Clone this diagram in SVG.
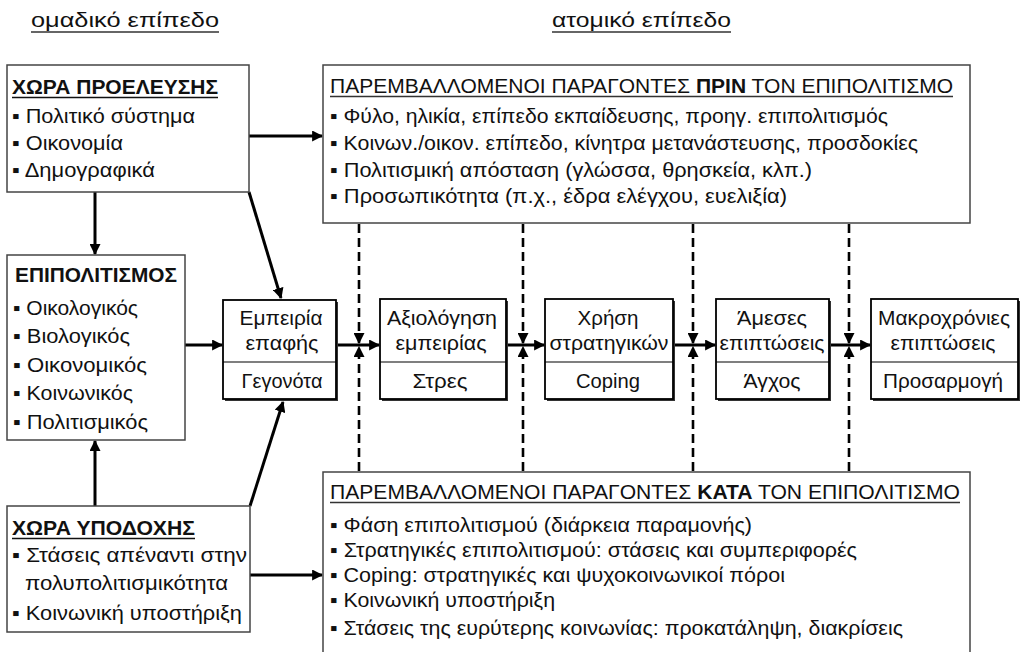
<svg xmlns="http://www.w3.org/2000/svg" width="1024" height="652" viewBox="0 0 1024 652">
<style>
text{font-family:"Liberation Sans",Arial,"DejaVu Sans",sans-serif;font-size:20px;fill:#111}
.b{font-weight:bold}
.t{font-size:21px}
.c{text-anchor:middle}
.box{fill:#fff;stroke:#444;stroke-width:1.5}
.cb{fill:#fff;stroke:#000;stroke-width:1.8}
.sh{fill:#333}
.ul{stroke:#333;stroke-width:1.3}
.con{stroke:#000;stroke-width:3;fill:none}
.dash{stroke:#000;stroke-width:2.6;fill:none;stroke-dasharray:9 5}
</style>
<defs>
<marker id="ah" viewBox="0 0 10 10" refX="9" refY="5" markerWidth="11" markerHeight="11" markerUnits="userSpaceOnUse" orient="auto">
<path d="M0,0 L10,5 L0,10 z" fill="#000"/>
</marker>
</defs>

<g id="headers">
<text x="31" y="27" textLength="188" lengthAdjust="spacingAndGlyphs" fill="#222">ομαδικό επίπεδο</text>
<line class="ul" x1="31" y1="32" x2="219" y2="32"/>
<text x="552" y="27" textLength="179" lengthAdjust="spacingAndGlyphs" fill="#222">ατομικό επίπεδο</text>
<line class="ul" x1="552" y1="32" x2="731" y2="32"/>
</g>

<g id="connectors">
<line class="con" x1="249" y1="136" x2="322" y2="136" marker-end="url(#ah)"/>
<line class="con" x1="95" y1="192" x2="95" y2="254" marker-end="url(#ah)"/>
<line class="con" x1="249" y1="192" x2="281" y2="298" marker-end="url(#ah)"/>
<line class="con" x1="185" y1="345" x2="222" y2="345" marker-end="url(#ah)"/>
<line class="con" x1="95" y1="506" x2="95" y2="441" marker-end="url(#ah)"/>
<line class="con" x1="250" y1="506" x2="283" y2="402" marker-end="url(#ah)"/>
<line class="con" x1="250" y1="575" x2="322" y2="575" marker-end="url(#ah)"/>
<line class="con" x1="336" y1="345" x2="379" y2="345" marker-end="url(#ah)"/>
<line class="con" x1="506" y1="345" x2="544" y2="345" marker-end="url(#ah)"/>
<line class="con" x1="673" y1="345" x2="715" y2="345" marker-end="url(#ah)"/>
<line class="con" x1="829" y1="345" x2="870" y2="345" marker-end="url(#ah)"/>
<line class="dash" x1="359" y1="224" x2="359" y2="343" marker-end="url(#ah)"/>
<line class="dash" x1="359" y1="471" x2="359" y2="347" marker-end="url(#ah)"/>
<line class="dash" x1="523" y1="224" x2="523" y2="343" marker-end="url(#ah)"/>
<line class="dash" x1="523" y1="471" x2="523" y2="347" marker-end="url(#ah)"/>
<line class="dash" x1="693" y1="224" x2="693" y2="343" marker-end="url(#ah)"/>
<line class="dash" x1="693" y1="471" x2="693" y2="347" marker-end="url(#ah)"/>
<line class="dash" x1="849" y1="224" x2="849" y2="343" marker-end="url(#ah)"/>
<line class="dash" x1="849" y1="471" x2="849" y2="347" marker-end="url(#ah)"/>
</g>

<g id="xora-proeleusis">
<rect class="box" x="7" y="65" width="242" height="127"/>
<text class="b t" x="12" y="94" textLength="206" lengthAdjust="spacingAndGlyphs">ΧΩΡΑ ΠΡΟΕΛΕΥΣΗΣ</text>
<line x1="12" y1="97.5" x2="218" y2="97.5" stroke="#111" stroke-width="1.5"/>
<text x="12" y="123" textLength="183" lengthAdjust="spacingAndGlyphs">▪ Πολιτικό σύστημα</text>
<text x="12" y="150" textLength="111" lengthAdjust="spacingAndGlyphs">▪ Οικονομία</text>
<text x="12" y="177" textLength="143" lengthAdjust="spacingAndGlyphs">▪ Δημογραφικά</text>
</g>

<g id="epipolitismos">
<rect class="box" x="7" y="255" width="178" height="185"/>
<text class="b t" x="15" y="282" textLength="162" lengthAdjust="spacingAndGlyphs">ΕΠΙΠΟΛΙΤΙΣΜΟΣ</text>
<text x="13" y="315" textLength="125" lengthAdjust="spacingAndGlyphs">▪ Οικολογικός</text>
<text x="13" y="343" textLength="117" lengthAdjust="spacingAndGlyphs">▪ Βιολογικός</text>
<text x="13" y="372" textLength="134" lengthAdjust="spacingAndGlyphs">▪ Οικονομικός</text>
<text x="13" y="400" textLength="120" lengthAdjust="spacingAndGlyphs">▪ Κοινωνικός</text>
<text x="13" y="429" textLength="135" lengthAdjust="spacingAndGlyphs">▪ Πολιτισμικός</text>
</g>

<g id="xora-ypodoxis">
<rect class="box" x="7" y="506" width="243" height="126"/>
<text class="b t" x="12" y="535" textLength="183" lengthAdjust="spacingAndGlyphs">ΧΩΡΑ ΥΠΟΔΟΧΗΣ</text>
<line x1="12" y1="538.5" x2="195" y2="538.5" stroke="#111" stroke-width="1.5"/>
<text x="12" y="562" textLength="235" lengthAdjust="spacingAndGlyphs">▪ Στάσεις απέναντι στην</text>
<text x="25" y="590" textLength="203" lengthAdjust="spacingAndGlyphs">πολυπολιτισμικότητα</text>
<text x="12" y="620" textLength="230" lengthAdjust="spacingAndGlyphs">▪ Κοινωνική υποστήριξη</text>
</g>

<g id="prin">
<rect class="box" x="323" y="65" width="647" height="158"/>
<text x="330" y="93" textLength="623" lengthAdjust="spacingAndGlyphs">ΠΑΡΕΜΒΑΛΛΟΜΕΝΟΙ ΠΑΡΑΓΟΝΤΕΣ <tspan class="b">ΠΡΙΝ</tspan> ΤΟΝ ΕΠΙΠΟΛΙΤΙΣΜΟ</text>
<line class="ul" x1="330" y1="96.5" x2="953" y2="96.5"/>
<text x="330" y="123" textLength="558" lengthAdjust="spacingAndGlyphs">▪ Φύλο, ηλικία, επίπεδο εκπαίδευσης, προηγ. επιπολιτισμός</text>
<text x="330" y="150" textLength="588" lengthAdjust="spacingAndGlyphs">▪ Κοινων./οικον. επίπεδο, κίνητρα μετανάστευσης, προσδοκίες</text>
<text x="330" y="177" textLength="482" lengthAdjust="spacingAndGlyphs">▪ Πολιτισμική απόσταση (γλώσσα, θρησκεία, κλπ.)</text>
<text x="330" y="203" textLength="457" lengthAdjust="spacingAndGlyphs">▪ Προσωπικότητα (π.χ., έδρα ελέγχου, ευελιξία)</text>
</g>

<g id="kata">
<rect class="box" x="323" y="472" width="647" height="200"/>
<text x="330" y="499" textLength="630" lengthAdjust="spacingAndGlyphs">ΠΑΡΕΜΒΑΛΛΟΜΕΝΟΙ ΠΑΡΑΓΟΝΤΕΣ <tspan class="b">ΚΑΤΑ</tspan> ΤΟΝ ΕΠΙΠΟΛΙΤΙΣΜΟ</text>
<line class="ul" x1="330" y1="502.5" x2="960" y2="502.5"/>
<text x="330" y="532" textLength="422" lengthAdjust="spacingAndGlyphs">▪ Φάση επιπολιτισμού (διάρκεια παραμονής)</text>
<text x="330" y="557" textLength="527" lengthAdjust="spacingAndGlyphs">▪ Στρατηγικές επιπολιτισμού: στάσεις και συμπεριφορές</text>
<text x="330" y="582" textLength="455" lengthAdjust="spacingAndGlyphs">▪ Coping: στρατηγικές και ψυχοκοινωνικοί πόροι</text>
<text x="330" y="607" textLength="225" lengthAdjust="spacingAndGlyphs">▪ Κοινωνική υποστήριξη</text>
<text x="330" y="635" textLength="573" lengthAdjust="spacingAndGlyphs">▪ Στάσεις της ευρύτερης κοινωνίας: προκατάληψη, διακρίσεις</text>
</g>

<g id="empeiria">
<rect class="sh" x="225" y="302" width="113" height="99"/>
<rect class="cb" x="223" y="300" width="113" height="99"/>
<line x1="223" y1="362" x2="336" y2="362" stroke="#000" stroke-width="1.2"/>
<text class="c" x="281" y="325" textLength="83" lengthAdjust="spacingAndGlyphs">Εμπειρία</text>
<text class="c" x="282" y="350" textLength="73" lengthAdjust="spacingAndGlyphs">επαφής</text>
<text class="c" x="282" y="388" textLength="81" lengthAdjust="spacingAndGlyphs">Γεγονότα</text>
</g>

<g id="axiologisi">
<rect class="sh" x="382" y="301" width="126" height="100"/>
<rect class="cb" x="380" y="299" width="126" height="100"/>
<line x1="380" y1="362" x2="506" y2="362" stroke="#000" stroke-width="1.2"/>
<text class="c" x="442" y="325" textLength="110" lengthAdjust="spacingAndGlyphs">Αξιολόγηση</text>
<text class="c" x="441" y="350" textLength="91" lengthAdjust="spacingAndGlyphs">εμπειρίας</text>
<text class="c" x="440" y="388" textLength="55" lengthAdjust="spacingAndGlyphs">Στρες</text>
</g>

<g id="xrisi">
<rect class="sh" x="547" y="301" width="128" height="100"/>
<rect class="cb" x="545" y="299" width="128" height="100"/>
<line x1="545" y1="362" x2="673" y2="362" stroke="#000" stroke-width="1.2"/>
<text class="c" x="608" y="325" textLength="61" lengthAdjust="spacingAndGlyphs">Χρήση</text>
<text class="c" x="609" y="350" textLength="119" lengthAdjust="spacingAndGlyphs">στρατηγικών</text>
<text class="c" x="608" y="388" textLength="64" lengthAdjust="spacingAndGlyphs">Coping</text>
</g>

<g id="ameses">
<rect class="sh" x="718" y="301" width="113" height="100"/>
<rect class="cb" x="716" y="299" width="113" height="100"/>
<line x1="716" y1="362" x2="829" y2="362" stroke="#000" stroke-width="1.2"/>
<text class="c" x="772" y="325" textLength="70" lengthAdjust="spacingAndGlyphs">Άμεσες</text>
<text class="c" x="772" y="350" textLength="105" lengthAdjust="spacingAndGlyphs">επιπτώσεις</text>
<text class="c" x="772" y="388" textLength="57" lengthAdjust="spacingAndGlyphs">Άγχος</text>
</g>

<g id="makroxronies">
<rect class="sh" x="873" y="301" width="147" height="100"/>
<rect class="cb" x="871" y="299" width="147" height="100"/>
<line x1="871" y1="362" x2="1018" y2="362" stroke="#000" stroke-width="1.2"/>
<text class="c" x="944" y="325" textLength="132" lengthAdjust="spacingAndGlyphs">Μακροχρόνιες</text>
<text class="c" x="943" y="350" textLength="105" lengthAdjust="spacingAndGlyphs">επιπτώσεις</text>
<text class="c" x="943" y="388" textLength="120" lengthAdjust="spacingAndGlyphs">Προσαρμογή</text>
</g>
</svg>
